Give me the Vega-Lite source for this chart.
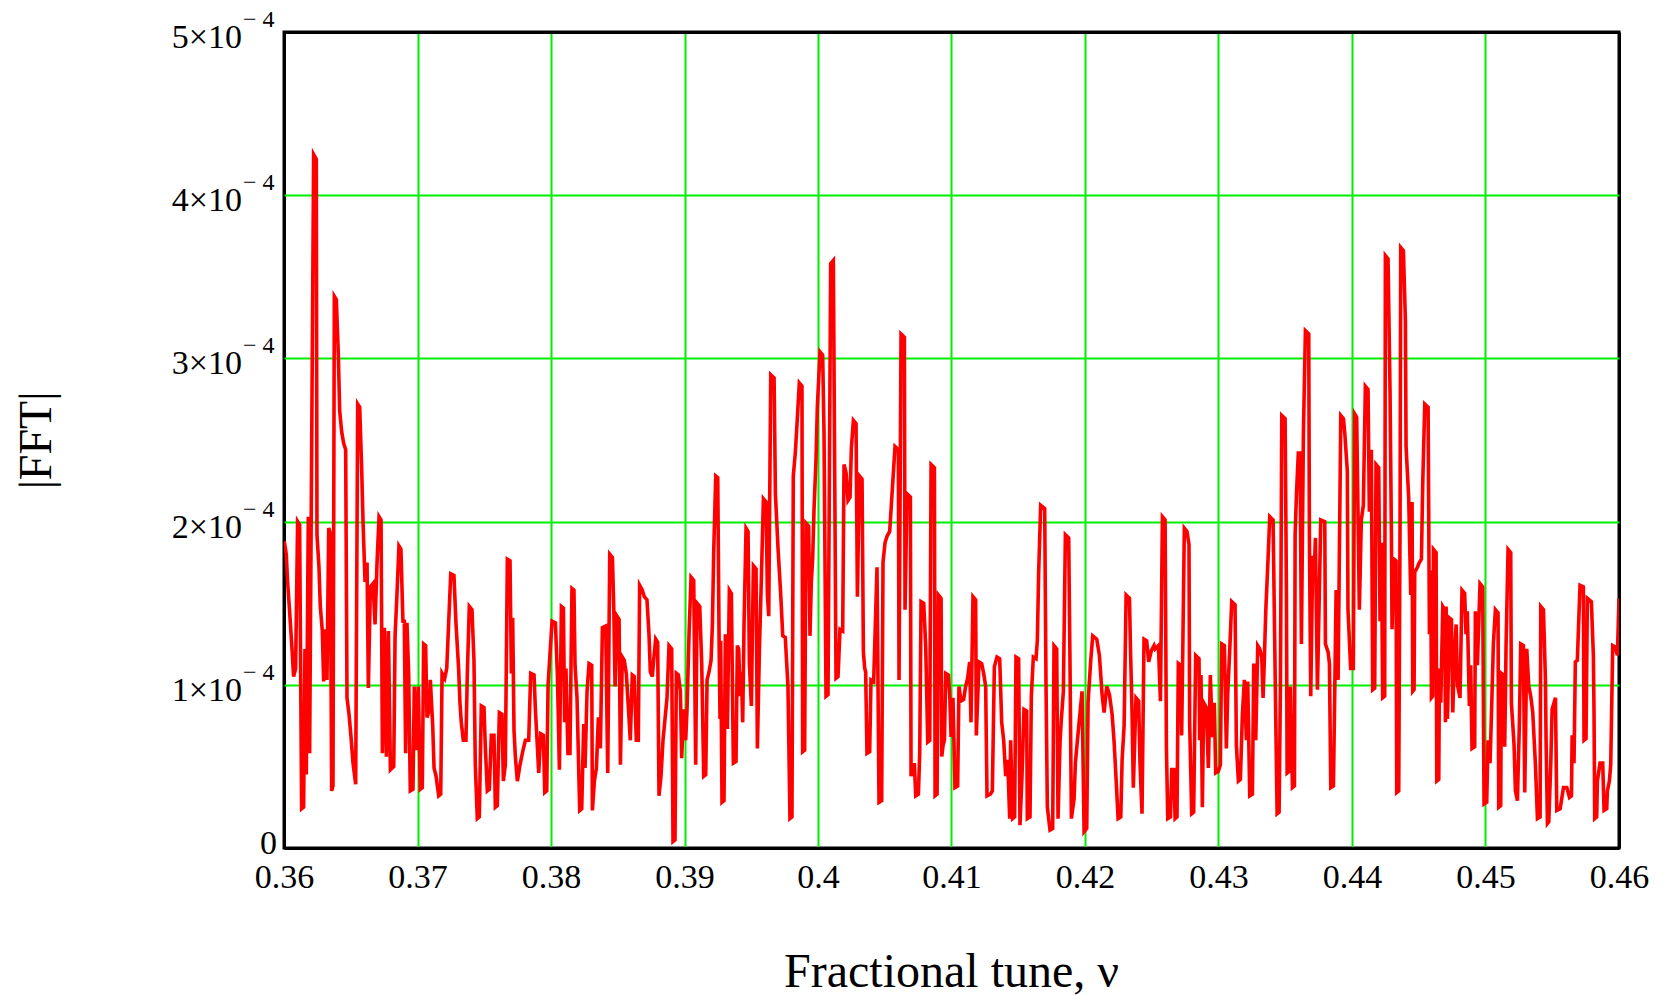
{
"$schema": "https://vega.github.io/schema/vega-lite/v6.json",
"autosize": "none",
"width": 1335,
"height": 816,
"padding": {"left": 284, "top": 32, "right": 47, "bottom": 147},
"background": "white",
"config": {
  "view": {"stroke": "black", "strokeWidth": 3},
  "axis": {"labelFont": "Liberation Serif", "titleFont": "Liberation Serif", "titleFontWeight": "normal", "labelColor": "black", "titleColor": "black", "gridOpacity": 1, "domain": false, "ticks": false}
},
"datasets": {
  "fft": [
{"nu":0.36002,"f":1.88e-4},{"nu":0.36017,"f":1.80e-4},{"nu":0.36027,"f":1.63e-4},{"nu":0.36042,"f":1.45e-4},{"nu":0.36060,"f":1.22e-4},{"nu":0.36072,"f":1.05e-4},{"nu":0.36087,"f":1.10e-4},{"nu":0.36102,"f":2.00e-4},{"nu":0.36117,"f":1.98e-4},{"nu":0.36132,"f":0.24e-4},{"nu":0.36147,"f":0.25e-4},{"nu":0.36157,"f":1.22e-4},{"nu":0.36167,"f":0.45e-4},{"nu":0.36182,"f":2.03e-4},{"nu":0.36192,"f":0.58e-4},{"nu":0.36207,"f":2.42e-4},{"nu":0.36222,"f":4.25e-4},{"nu":0.36242,"f":4.22e-4},{"nu":0.36247,"f":1.92e-4},{"nu":0.36262,"f":1.72e-4},{"nu":0.36272,"f":1.48e-4},{"nu":0.36287,"f":1.33e-4},{"nu":0.36297,"f":1.02e-4},{"nu":0.36310,"f":1.34e-4},{"nu":0.36322,"f":1.03e-4},{"nu":0.36335,"f":1.96e-4},{"nu":0.36347,"f":1.93e-4},{"nu":0.36357,"f":0.35e-4},{"nu":0.36367,"f":0.38e-4},{"nu":0.36377,"f":3.38e-4},{"nu":0.36392,"f":3.36e-4},{"nu":0.36407,"f":3.02e-4},{"nu":0.36417,"f":2.68e-4},{"nu":0.36432,"f":2.55e-4},{"nu":0.36447,"f":2.48e-4},{"nu":0.36462,"f":2.44e-4},{"nu":0.36472,"f":0.92e-4},{"nu":0.36487,"f":0.82e-4},{"nu":0.36502,"f":0.68e-4},{"nu":0.36517,"f":0.52e-4},{"nu":0.36537,"f":0.39e-4},{"nu":0.36552,"f":2.72e-4},{"nu":0.36567,"f":2.70e-4},{"nu":0.36582,"f":2.32e-4},{"nu":0.36592,"f":2.00e-4},{"nu":0.36607,"f":1.63e-4},{"nu":0.36622,"f":1.75e-4},{"nu":0.36632,"f":0.98e-4},{"nu":0.36647,"f":1.60e-4},{"nu":0.36667,"f":1.62e-4},{"nu":0.36682,"f":1.37e-4},{"nu":0.36697,"f":1.75e-4},{"nu":0.36712,"f":2.03e-4},{"nu":0.36727,"f":2.01e-4},{"nu":0.36737,"f":0.58e-4},{"nu":0.36752,"f":1.35e-4},{"nu":0.36767,"f":0.56e-4},{"nu":0.36782,"f":1.33e-4},{"nu":0.36797,"f":0.48e-4},{"nu":0.36822,"f":0.50e-4},{"nu":0.36832,"f":1.30e-4},{"nu":0.36846,"f":1.55e-4},{"nu":0.36861,"f":1.85e-4},{"nu":0.36876,"f":1.83e-4},{"nu":0.36891,"f":1.38e-4},{"nu":0.36901,"f":1.40e-4},{"nu":0.36911,"f":0.58e-4},{"nu":0.36921,"f":1.38e-4},{"nu":0.36934,"f":1.06e-4},{"nu":0.36946,"f":0.35e-4},{"nu":0.36966,"f":0.36e-4},{"nu":0.36976,"f":0.99e-4},{"nu":0.36991,"f":0.60e-4},{"nu":0.37006,"f":0.99e-4},{"nu":0.37021,"f":0.36e-4},{"nu":0.37036,"f":0.37e-4},{"nu":0.37046,"f":1.25e-4},{"nu":0.37061,"f":1.24e-4},{"nu":0.37071,"f":0.80e-4},{"nu":0.37091,"f":0.85e-4},
{"nu":0.37096,"f":1.03e-4},{"nu":0.37114,"f":0.75e-4},{"nu":0.37124,"f":0.49e-4},{"nu":0.37139,"f":0.44e-4},{"nu":0.37159,"f":0.32e-4},{"nu":0.37174,"f":0.33e-4},{"nu":0.37184,"f":1.07e-4},{"nu":0.37204,"f":1.04e-4},{"nu":0.37219,"f":1.10e-4},{"nu":0.37234,"f":1.39e-4},{"nu":0.37249,"f":1.68e-4},{"nu":0.37273,"f":1.67e-4},{"nu":0.37288,"f":1.38e-4},{"nu":0.37298,"f":1.24e-4},{"nu":0.37308,"f":1.10e-4},{"nu":0.37318,"f":0.89e-4},{"nu":0.37328,"f":0.77e-4},{"nu":0.37343,"f":0.66e-4},{"nu":0.37363,"f":0.66e-4},{"nu":0.37373,"f":1.06e-4},{"nu":0.37388,"f":1.48e-4},{"nu":0.37408,"f":1.46e-4},{"nu":0.37423,"f":1.15e-4},{"nu":0.37433,"f":0.51e-4},{"nu":0.37448,"f":0.18e-4},{"nu":0.37463,"f":0.19e-4},{"nu":0.37478,"f":0.87e-4},{"nu":0.37498,"f":0.86e-4},{"nu":0.37508,"f":0.62e-4},{"nu":0.37523,"f":0.35e-4},{"nu":0.37538,"f":0.36e-4},{"nu":0.37553,"f":0.69e-4},{"nu":0.37573,"f":0.69e-4},{"nu":0.37583,"f":0.25e-4},{"nu":0.37598,"f":0.26e-4},{"nu":0.37613,"f":0.83e-4},{"nu":0.37633,"f":0.82e-4},{"nu":0.37643,"f":0.41e-4},{"nu":0.37658,"f":0.51e-4},{"nu":0.37673,"f":1.77e-4},{"nu":0.37693,"f":1.76e-4},{"nu":0.37703,"f":1.07e-4},{"nu":0.37713,"f":1.41e-4},{"nu":0.37723,"f":0.72e-4},{"nu":0.37733,"f":0.56e-4},{"nu":0.37748,"f":0.41e-4},{"nu":0.37768,"f":0.51e-4},{"nu":0.37788,"f":0.59e-4},{"nu":0.37808,"f":0.66e-4},{"nu":0.37833,"f":0.66e-4},{"nu":0.37848,"f":1.07e-4},{"nu":0.37873,"f":1.06e-4},{"nu":0.37883,"f":0.85e-4},{"nu":0.37898,"f":0.62e-4},{"nu":0.37908,"f":0.46e-4},{"nu":0.37923,"f":0.70e-4},{"nu":0.37943,"f":0.69e-4},{"nu":0.37953,"f":0.34e-4},{"nu":0.37968,"f":0.35e-4},{"nu":0.37978,"f":1.00e-4},{"nu":0.37988,"f":1.13e-4},{"nu":0.38008,"f":1.39e-4},{"nu":0.38033,"f":1.38e-4},{"nu":0.38048,"f":1.06e-4},{"nu":0.38063,"f":0.48e-4},{"nu":0.38078,"f":1.48e-4},{"nu":0.38093,"f":1.47e-4},{"nu":0.38102,"f":0.77e-4},{"nu":0.38112,"f":1.10e-4},{"nu":0.38127,"f":0.58e-4},{"nu":0.38142,"f":0.58e-4},{"nu":0.38157,"f":1.59e-4},{"nu":0.38172,"f":1.58e-4},
{"nu":0.38180,"f":1.12e-4},{"nu":0.38195,"f":0.92e-4},{"nu":0.38215,"f":0.23e-4},{"nu":0.38230,"f":0.24e-4},{"nu":0.38245,"f":0.76e-4},{"nu":0.38255,"f":0.49e-4},{"nu":0.38270,"f":0.96e-4},{"nu":0.38285,"f":1.13e-4},{"nu":0.38305,"f":1.12e-4},{"nu":0.38310,"f":0.23e-4},{"nu":0.38325,"f":0.41e-4},{"nu":0.38340,"f":0.49e-4},{"nu":0.38355,"f":0.80e-4},{"nu":0.38370,"f":0.61e-4},{"nu":0.38385,"f":1.35e-4},{"nu":0.38410,"f":1.36e-4},{"nu":0.38425,"f":0.46e-4},{"nu":0.38440,"f":1.80e-4},{"nu":0.38460,"f":1.78e-4},{"nu":0.38470,"f":1.48e-4},{"nu":0.38480,"f":0.99e-4},{"nu":0.38495,"f":1.42e-4},{"nu":0.38510,"f":1.40e-4},{"nu":0.38520,"f":0.51e-4},{"nu":0.38534,"f":1.17e-4},{"nu":0.38549,"f":1.15e-4},{"nu":0.38564,"f":1.07e-4},{"nu":0.38579,"f":0.87e-4},{"nu":0.38594,"f":0.66e-4},{"nu":0.38609,"f":1.06e-4},{"nu":0.38624,"f":1.05e-4},{"nu":0.38639,"f":0.66e-4},{"nu":0.38654,"f":0.66e-4},{"nu":0.38664,"f":1.61e-4},{"nu":0.38684,"f":1.58e-4},{"nu":0.38699,"f":1.54e-4},{"nu":0.38719,"f":1.52e-4},{"nu":0.38734,"f":1.31e-4},{"nu":0.38744,"f":1.08e-4},{"nu":0.38759,"f":1.05e-4},{"nu":0.38769,"f":1.15e-4},{"nu":0.38784,"f":1.28e-4},{"nu":0.38799,"f":1.26e-4},{"nu":0.38809,"f":0.32e-4},{"nu":0.38824,"f":0.44e-4},{"nu":0.38839,"f":0.66e-4},{"nu":0.38854,"f":0.79e-4},{"nu":0.38869,"f":0.92e-4},{"nu":0.38884,"f":1.24e-4},{"nu":0.38904,"f":1.22e-4},{"nu":0.38914,"f":0.04e-4},{"nu":0.38929,"f":0.05e-4},{"nu":0.38939,"f":1.07e-4},{"nu":0.38954,"f":1.06e-4},{"nu":0.38969,"f":0.96e-4},{"nu":0.38979,"f":0.55e-4},{"nu":0.38994,"f":0.85e-4},{"nu":0.39009,"f":0.66e-4},{"nu":0.39019,"f":0.85e-4},{"nu":0.39034,"f":1.31e-4},{"nu":0.39049,"f":1.66e-4},{"nu":0.39069,"f":1.64e-4},{"nu":0.39084,"f":0.51e-4},{"nu":0.39094,"f":1.50e-4},{"nu":0.39114,"f":1.48e-4},{"nu":0.39129,"f":1.13e-4},{"nu":0.39144,"f":0.44e-4},{"nu":0.39159,"f":0.45e-4},{"nu":0.39169,"f":1.03e-4},{"nu":0.39184,"f":1.08e-4},{"nu":0.39199,"f":1.15e-4},{"nu":0.39209,"f":1.37e-4},{"nu":0.39219,"f":1.82e-4},{"nu":0.39234,"f":2.28e-4},{"nu":0.39249,"f":2.27e-4},{"nu":0.39259,"f":1.28e-4},
{"nu":0.39266,"f":0.79e-4},{"nu":0.39271,"f":1.27e-4},{"nu":0.39281,"f":0.28e-4},{"nu":0.39296,"f":0.29e-4},{"nu":0.39306,"f":1.31e-4},{"nu":0.39321,"f":0.73e-4},{"nu":0.39336,"f":1.58e-4},{"nu":0.39351,"f":1.56e-4},{"nu":0.39366,"f":0.52e-4},{"nu":0.39386,"f":0.53e-4},{"nu":0.39396,"f":1.24e-4},{"nu":0.39406,"f":1.22e-4},{"nu":0.39416,"f":0.93e-4},{"nu":0.39426,"f":1.08e-4},{"nu":0.39436,"f":0.77e-4},{"nu":0.39446,"f":1.37e-4},{"nu":0.39461,"f":1.96e-4},{"nu":0.39476,"f":1.94e-4},{"nu":0.39486,"f":1.13e-4},{"nu":0.39501,"f":0.87e-4},{"nu":0.39516,"f":1.73e-4},{"nu":0.39536,"f":1.71e-4},{"nu":0.39546,"f":0.61e-4},{"nu":0.39561,"f":1.21e-4},{"nu":0.39576,"f":1.66e-4},{"nu":0.39591,"f":2.14e-4},{"nu":0.39611,"f":2.12e-4},{"nu":0.39621,"f":1.55e-4},{"nu":0.39631,"f":1.42e-4},{"nu":0.39646,"f":2.90e-4},{"nu":0.39671,"f":2.88e-4},{"nu":0.39681,"f":2.17e-4},{"nu":0.39701,"f":1.83e-4},{"nu":0.39721,"f":1.55e-4},{"nu":0.39736,"f":1.30e-4},{"nu":0.39755,"f":1.29e-4},{"nu":0.39765,"f":1.14e-4},{"nu":0.39775,"f":0.99e-4},{"nu":0.39790,"f":0.18e-4},{"nu":0.39805,"f":0.19e-4},{"nu":0.39815,"f":2.28e-4},{"nu":0.39830,"f":2.42e-4},{"nu":0.39845,"f":2.63e-4},{"nu":0.39860,"f":2.85e-4},{"nu":0.39880,"f":2.83e-4},{"nu":0.39885,"f":0.59e-4},{"nu":0.39900,"f":0.60e-4},{"nu":0.39910,"f":1.99e-4},{"nu":0.39930,"f":1.97e-4},{"nu":0.39940,"f":1.30e-4},{"nu":0.39950,"f":1.63e-4},{"nu":0.39960,"f":1.77e-4},{"nu":0.39970,"f":2.07e-4},{"nu":0.39985,"f":2.38e-4},{"nu":0.39995,"f":2.70e-4},{"nu":0.40015,"f":3.04e-4},{"nu":0.40035,"f":3.02e-4},{"nu":0.40045,"f":2.55e-4},{"nu":0.40060,"f":0.93e-4},{"nu":0.40075,"f":0.94e-4},{"nu":0.40085,"f":2.24e-4},{"nu":0.40095,"f":3.58e-4},{"nu":0.40115,"f":3.60e-4},{"nu":0.40125,"f":2.31e-4},{"nu":0.40135,"f":1.04e-4},{"nu":0.40150,"f":1.05e-4},{"nu":0.40165,"f":1.34e-4},{"nu":0.40185,"f":1.33e-4},{"nu":0.40195,"f":2.35e-4},{"nu":0.40210,"f":2.30e-4},{"nu":0.40225,"f":2.13e-4},{"nu":0.40240,"f":2.15e-4},{"nu":0.40250,"f":2.45e-4},{"nu":0.40265,"f":2.62e-4},{"nu":0.40285,"f":2.60e-4},{"nu":0.40295,"f":1.54e-4},{"nu":0.40310,"f":2.28e-4},{"nu":0.40330,"f":2.26e-4},{"nu":0.40340,"f":1.20e-4},{"nu":0.40350,"f":1.10e-4},
{"nu":0.40357,"f":1.08e-4},{"nu":0.40367,"f":0.58e-4},{"nu":0.40387,"f":0.59e-4},{"nu":0.40397,"f":1.03e-4},{"nu":0.40417,"f":1.02e-4},{"nu":0.40442,"f":1.72e-4},{"nu":0.40457,"f":0.28e-4},{"nu":0.40477,"f":0.29e-4},{"nu":0.40487,"f":1.75e-4},{"nu":0.40502,"f":1.87e-4},{"nu":0.40517,"f":1.91e-4},{"nu":0.40537,"f":1.94e-4},{"nu":0.40557,"f":2.20e-4},{"nu":0.40577,"f":2.46e-4},{"nu":0.40602,"f":2.44e-4},{"nu":0.40607,"f":1.03e-4},{"nu":0.40622,"f":3.15e-4},{"nu":0.40647,"f":3.13e-4},{"nu":0.40652,"f":1.46e-4},{"nu":0.40667,"f":2.17e-4},{"nu":0.40692,"f":2.15e-4},{"nu":0.40697,"f":0.44e-4},{"nu":0.40712,"f":0.51e-4},{"nu":0.40722,"f":0.51e-4},{"nu":0.40732,"f":0.32e-4},{"nu":0.40752,"f":0.33e-4},{"nu":0.40762,"f":0.58e-4},{"nu":0.40772,"f":1.51e-4},{"nu":0.40792,"f":1.50e-4},{"nu":0.40807,"f":1.23e-4},{"nu":0.40822,"f":0.65e-4},{"nu":0.40837,"f":0.66e-4},{"nu":0.40847,"f":2.35e-4},{"nu":0.40872,"f":2.33e-4},{"nu":0.40877,"f":0.32e-4},{"nu":0.40892,"f":0.33e-4},{"nu":0.40902,"f":1.55e-4},{"nu":0.40922,"f":1.53e-4},{"nu":0.40927,"f":0.56e-4},{"nu":0.40937,"f":0.63e-4},{"nu":0.40947,"f":0.66e-4},{"nu":0.40957,"f":1.07e-4},{"nu":0.40977,"f":1.06e-4},{"nu":0.40987,"f":0.93e-4},{"nu":0.40997,"f":0.68e-4},{"nu":0.41011,"f":0.92e-4},{"nu":0.41026,"f":0.37e-4},{"nu":0.41046,"f":0.38e-4},{"nu":0.41056,"f":0.99e-4},{"nu":0.41071,"f":0.90e-4},{"nu":0.41091,"f":0.91e-4},{"nu":0.41106,"f":0.99e-4},{"nu":0.41121,"f":1.04e-4},{"nu":0.41136,"f":1.14e-4},{"nu":0.41146,"f":0.77e-4},{"nu":0.41161,"f":1.54e-4},{"nu":0.41181,"f":1.52e-4},{"nu":0.41186,"f":0.69e-4},{"nu":0.41206,"f":1.14e-4},{"nu":0.41226,"f":1.13e-4},{"nu":0.41241,"f":1.07e-4},{"nu":0.41256,"f":0.99e-4},{"nu":0.41266,"f":0.32e-4},{"nu":0.41291,"f":0.33e-4},{"nu":0.41306,"f":0.35e-4},{"nu":0.41321,"f":1.11e-4},{"nu":0.41341,"f":1.17e-4},{"nu":0.41361,"f":1.16e-4},{"nu":0.41376,"f":0.77e-4},{"nu":0.41391,"f":0.66e-4},{"nu":0.41406,"f":0.44e-4},{"nu":0.41421,"f":0.54e-4},{"nu":0.41436,"f":0.18e-4},
{"nu":0.41443,"f":0.66e-4},{"nu":0.41458,"f":0.18e-4},{"nu":0.41473,"f":0.19e-4},{"nu":0.41483,"f":1.17e-4},{"nu":0.41503,"f":1.16e-4},{"nu":0.41513,"f":0.14e-4},{"nu":0.41528,"f":0.44e-4},{"nu":0.41543,"f":0.85e-4},{"nu":0.41563,"f":0.84e-4},{"nu":0.41568,"f":0.18e-4},{"nu":0.41588,"f":0.19e-4},{"nu":0.41598,"f":0.93e-4},{"nu":0.41613,"f":1.17e-4},{"nu":0.41633,"f":1.16e-4},{"nu":0.41643,"f":1.27e-4},{"nu":0.41653,"f":1.69e-4},{"nu":0.41668,"f":2.10e-4},{"nu":0.41698,"f":2.08e-4},{"nu":0.41708,"f":1.00e-4},{"nu":0.41718,"f":0.25e-4},{"nu":0.41738,"f":0.11e-4},{"nu":0.41758,"f":0.12e-4},{"nu":0.41768,"f":1.24e-4},{"nu":0.41788,"f":1.22e-4},{"nu":0.41798,"f":0.18e-4},{"nu":0.41813,"f":0.65e-4},{"nu":0.41823,"f":0.79e-4},{"nu":0.41838,"f":0.96e-4},{"nu":0.41853,"f":1.92e-4},{"nu":0.41878,"f":1.90e-4},{"nu":0.41888,"f":1.10e-4},{"nu":0.41898,"f":0.18e-4},{"nu":0.41918,"f":0.30e-4},{"nu":0.41928,"f":0.52e-4},{"nu":0.41943,"f":0.66e-4},{"nu":0.41963,"f":0.83e-4},{"nu":0.41978,"f":0.96e-4},{"nu":0.41993,"f":0.10e-4},{"nu":0.42013,"f":0.12e-4},{"nu":0.42023,"f":0.89e-4},{"nu":0.42043,"f":1.15e-4},{"nu":0.42058,"f":1.30e-4},{"nu":0.42088,"f":1.28e-4},{"nu":0.42108,"f":1.18e-4},{"nu":0.42128,"f":0.94e-4},{"nu":0.42143,"f":0.83e-4},{"nu":0.42163,"f":0.99e-4},{"nu":0.42183,"f":0.94e-4},{"nu":0.42203,"f":0.82e-4},{"nu":0.42218,"f":0.65e-4},{"nu":0.42233,"f":0.42e-4},{"nu":0.42248,"f":0.18e-4},{"nu":0.42268,"f":0.19e-4},{"nu":0.42278,"f":0.54e-4},{"nu":0.42293,"f":0.75e-4},{"nu":0.42308,"f":1.55e-4},{"nu":0.42333,"f":1.53e-4},{"nu":0.42342,"f":1.18e-4},{"nu":0.42352,"f":0.85e-4},{"nu":0.42362,"f":0.37e-4},{"nu":0.42382,"f":0.92e-4},{"nu":0.42402,"f":0.90e-4},{"nu":0.42412,"f":0.52e-4},{"nu":0.42427,"f":0.21e-4},{"nu":0.42442,"f":1.28e-4},{"nu":0.42462,"f":1.27e-4},{"nu":0.42477,"f":1.14e-4},{"nu":0.42497,"f":1.21e-4},{"nu":0.42517,"f":1.24e-4},
{"nu":0.42525,"f":1.22e-4},{"nu":0.42550,"f":1.24e-4},{"nu":0.42565,"f":0.90e-4},{"nu":0.42580,"f":2.03e-4},{"nu":0.42600,"f":2.01e-4},{"nu":0.42610,"f":0.61e-4},{"nu":0.42620,"f":0.18e-4},{"nu":0.42640,"f":0.19e-4},{"nu":0.42650,"f":0.48e-4},{"nu":0.42665,"f":0.48e-4},{"nu":0.42675,"f":0.18e-4},{"nu":0.42689,"f":0.19e-4},{"nu":0.42699,"f":1.13e-4},{"nu":0.42714,"f":1.12e-4},{"nu":0.42724,"f":0.69e-4},{"nu":0.42734,"f":1.31e-4},{"nu":0.42744,"f":1.96e-4},{"nu":0.42764,"f":1.94e-4},{"nu":0.42779,"f":1.86e-4},{"nu":0.42784,"f":0.77e-4},{"nu":0.42799,"f":0.21e-4},{"nu":0.42814,"f":0.22e-4},{"nu":0.42829,"f":1.18e-4},{"nu":0.42854,"f":1.16e-4},{"nu":0.42859,"f":0.66e-4},{"nu":0.42869,"f":1.06e-4},{"nu":0.42879,"f":0.25e-4},{"nu":0.42889,"f":0.89e-4},{"nu":0.42909,"f":0.86e-4},{"nu":0.42924,"f":0.49e-4},{"nu":0.42939,"f":1.06e-4},{"nu":0.42954,"f":0.68e-4},{"nu":0.42969,"f":0.89e-4},{"nu":0.42979,"f":0.46e-4},{"nu":0.42999,"f":0.47e-4},{"nu":0.43014,"f":0.51e-4},{"nu":0.43024,"f":1.25e-4},{"nu":0.43044,"f":1.24e-4},{"nu":0.43059,"f":0.61e-4},{"nu":0.43069,"f":0.94e-4},{"nu":0.43084,"f":1.21e-4},{"nu":0.43099,"f":1.51e-4},{"nu":0.43124,"f":1.49e-4},{"nu":0.43134,"f":0.63e-4},{"nu":0.43149,"f":0.41e-4},{"nu":0.43164,"f":0.42e-4},{"nu":0.43179,"f":0.82e-4},{"nu":0.43194,"f":1.03e-4},{"nu":0.43209,"f":0.66e-4},{"nu":0.43219,"f":1.02e-4},{"nu":0.43234,"f":0.32e-4},{"nu":0.43254,"f":0.33e-4},{"nu":0.43264,"f":1.13e-4},{"nu":0.43279,"f":0.66e-4},{"nu":0.43294,"f":1.24e-4},{"nu":0.43309,"f":1.22e-4},{"nu":0.43324,"f":1.17e-4},{"nu":0.43334,"f":0.92e-4},{"nu":0.43344,"f":1.17e-4},{"nu":0.43354,"f":1.45e-4},{"nu":0.43369,"f":1.73e-4},{"nu":0.43384,"f":2.03e-4},{"nu":0.43409,"f":2.01e-4},{"nu":0.43419,"f":1.39e-4},{"nu":0.43429,"f":0.79e-4},{"nu":0.43439,"f":0.21e-4},{"nu":0.43454,"f":0.22e-4},{"nu":0.43464,"f":1.00e-4},{"nu":0.43474,"f":2.65e-4},{"nu":0.43499,"f":2.63e-4},{"nu":0.43509,"f":1.55e-4},{"nu":0.43514,"f":0.46e-4},{"nu":0.43529,"f":0.47e-4},{"nu":0.43539,"f":0.99e-4},{"nu":0.43554,"f":0.37e-4},{"nu":0.43569,"f":0.38e-4},{"nu":0.43574,"f":1.92e-4},{"nu":0.43584,"f":2.17e-4},{"nu":0.43598,"f":2.42e-4},
{"nu":0.43611,"f":2.42e-4},{"nu":0.43621,"f":1.25e-4},{"nu":0.43636,"f":2.54e-4},{"nu":0.43651,"f":3.17e-4},{"nu":0.43676,"f":3.15e-4},{"nu":0.43681,"f":1.90e-4},{"nu":0.43691,"f":0.93e-4},{"nu":0.43706,"f":1.79e-4},{"nu":0.43716,"f":1.66e-4},{"nu":0.43726,"f":1.90e-4},{"nu":0.43741,"f":0.97e-4},{"nu":0.43766,"f":2.01e-4},{"nu":0.43796,"f":2.00e-4},{"nu":0.43801,"f":1.25e-4},{"nu":0.43821,"f":1.20e-4},{"nu":0.43831,"f":1.13e-4},{"nu":0.43841,"f":0.37e-4},{"nu":0.43861,"f":0.38e-4},{"nu":0.43871,"f":0.97e-4},{"nu":0.43881,"f":1.58e-4},{"nu":0.43896,"f":1.03e-4},{"nu":0.43906,"f":1.85e-4},{"nu":0.43916,"f":2.65e-4},{"nu":0.43936,"f":2.63e-4},{"nu":0.43946,"f":2.54e-4},{"nu":0.43956,"f":2.42e-4},{"nu":0.43965,"f":2.31e-4},{"nu":0.43970,"f":1.46e-4},{"nu":0.43990,"f":1.10e-4},{"nu":0.44010,"f":1.10e-4},{"nu":0.44020,"f":2.66e-4},{"nu":0.44035,"f":2.64e-4},{"nu":0.44045,"f":2.06e-4},{"nu":0.44055,"f":1.46e-4},{"nu":0.44070,"f":2.01e-4},{"nu":0.44085,"f":2.10e-4},{"nu":0.44100,"f":2.83e-4},{"nu":0.44120,"f":2.81e-4},{"nu":0.44130,"f":2.06e-4},{"nu":0.44145,"f":2.44e-4},{"nu":0.44155,"f":0.97e-4},{"nu":0.44170,"f":0.98e-4},{"nu":0.44180,"f":2.35e-4},{"nu":0.44200,"f":2.33e-4},{"nu":0.44210,"f":1.39e-4},{"nu":0.44220,"f":1.87e-4},{"nu":0.44230,"f":0.92e-4},{"nu":0.44245,"f":0.93e-4},{"nu":0.44250,"f":3.63e-4},{"nu":0.44270,"f":3.61e-4},{"nu":0.44285,"f":2.79e-4},{"nu":0.44295,"f":1.93e-4},{"nu":0.44300,"f":1.34e-4},{"nu":0.44315,"f":1.77e-4},{"nu":0.44330,"f":1.76e-4},{"nu":0.44335,"f":0.34e-4},{"nu":0.44350,"f":0.35e-4},{"nu":0.44360,"f":2.00e-4},{"nu":0.44365,"f":3.68e-4},{"nu":0.44385,"f":3.66e-4},{"nu":0.44400,"f":3.23e-4},{"nu":0.44405,"f":2.46e-4},{"nu":0.44425,"f":2.14e-4},{"nu":0.44440,"f":1.55e-4},{"nu":0.44450,"f":2.12e-4},{"nu":0.44455,"f":0.96e-4},{"nu":0.44465,"f":0.97e-4},{"nu":0.44470,"f":1.69e-4},{"nu":0.44490,"f":1.72e-4},{"nu":0.44505,"f":1.75e-4},{"nu":0.44520,"f":1.77e-4},{"nu":0.44530,"f":2.24e-4},{"nu":0.44545,"f":2.72e-4},{"nu":0.44570,"f":2.70e-4},{"nu":0.44580,"f":1.31e-4},{"nu":0.44590,"f":1.70e-4},{"nu":0.44595,"f":0.92e-4},{"nu":0.44605,"f":0.93e-4},{"nu":0.44610,"f":1.83e-4},{"nu":0.44630,"f":1.81e-4},{"nu":0.44635,"f":0.41e-4},{"nu":0.44650,"f":0.42e-4},{"nu":0.44655,"f":1.10e-4},{"nu":0.44665,"f":0.89e-4},{"nu":0.44680,"f":1.48e-4},{"nu":0.44695,"f":1.46e-4},{"nu":0.44700,"f":0.77e-4},
{"nu":0.44705,"f":1.48e-4},{"nu":0.44715,"f":0.79e-4},{"nu":0.44730,"f":1.41e-4},{"nu":0.44745,"f":1.40e-4},{"nu":0.44755,"f":0.83e-4},{"nu":0.44765,"f":1.12e-4},{"nu":0.44780,"f":1.37e-4},{"nu":0.44790,"f":1.00e-4},{"nu":0.44809,"f":0.92e-4},{"nu":0.44824,"f":1.58e-4},{"nu":0.44844,"f":1.56e-4},{"nu":0.44854,"f":1.31e-4},{"nu":0.44864,"f":1.45e-4},{"nu":0.44879,"f":0.87e-4},{"nu":0.44889,"f":1.12e-4},{"nu":0.44899,"f":0.61e-4},{"nu":0.44919,"f":0.62e-4},{"nu":0.44924,"f":1.45e-4},{"nu":0.44939,"f":1.12e-4},{"nu":0.44959,"f":1.62e-4},{"nu":0.44979,"f":1.60e-4},{"nu":0.44984,"f":0.93e-4},{"nu":0.44989,"f":0.27e-4},{"nu":0.45009,"f":0.28e-4},{"nu":0.45019,"f":0.66e-4},{"nu":0.45034,"f":0.52e-4},{"nu":0.45044,"f":0.80e-4},{"nu":0.45059,"f":1.25e-4},{"nu":0.45074,"f":1.46e-4},{"nu":0.45094,"f":1.44e-4},{"nu":0.45099,"f":0.25e-4},{"nu":0.45114,"f":0.26e-4},{"nu":0.45119,"f":1.07e-4},{"nu":0.45134,"f":1.06e-4},{"nu":0.45144,"f":0.62e-4},{"nu":0.45154,"f":1.24e-4},{"nu":0.45169,"f":1.83e-4},{"nu":0.45189,"f":1.81e-4},{"nu":0.45194,"f":0.89e-4},{"nu":0.45214,"f":0.63e-4},{"nu":0.45224,"f":0.35e-4},{"nu":0.45239,"f":0.29e-4},{"nu":0.45254,"f":0.77e-4},{"nu":0.45264,"f":1.25e-4},{"nu":0.45284,"f":1.24e-4},{"nu":0.45294,"f":0.34e-4},{"nu":0.45309,"f":1.22e-4},{"nu":0.45324,"f":0.99e-4},{"nu":0.45339,"f":0.93e-4},{"nu":0.45354,"f":0.83e-4},{"nu":0.45374,"f":0.51e-4},{"nu":0.45389,"f":0.18e-4},{"nu":0.45409,"f":0.19e-4},{"nu":0.45414,"f":1.48e-4},{"nu":0.45434,"f":1.46e-4},{"nu":0.45449,"f":1.03e-4},{"nu":0.45454,"f":0.65e-4},{"nu":0.45464,"f":0.15e-4},{"nu":0.45474,"f":0.16e-4},{"nu":0.45489,"f":0.52e-4},{"nu":0.45499,"f":0.85e-4},{"nu":0.45524,"f":0.92e-4},{"nu":0.45534,"f":0.23e-4},{"nu":0.45559,"f":0.24e-4},{"nu":0.45584,"f":0.37e-4},{"nu":0.45609,"f":0.37e-4},{"nu":0.45629,"f":0.31e-4},{"nu":0.45644,"f":0.32e-4},{"nu":0.45649,"f":0.69e-4},{"nu":0.45663,"f":0.52e-4},{"nu":0.45673,"f":1.14e-4},{"nu":0.45688,"f":1.15e-4},{"nu":0.45708,"f":1.61e-4},{"nu":0.45733,"f":1.60e-4},{"nu":0.45738,"f":0.66e-4},{"nu":0.45753,"f":0.67e-4},{"nu":0.45763,"f":1.53e-4},{"nu":0.45793,"f":1.51e-4},{"nu":0.45808,"f":1.18e-4},{"nu":0.45813,"f":0.83e-4},{"nu":0.45818,"f":0.18e-4},{"nu":0.45833,"f":0.19e-4},{"nu":0.45838,"f":0.41e-4},{"nu":0.45858,"f":0.52e-4},{"nu":0.45878,"f":0.52e-4},{"nu":0.45888,"f":0.23e-4},{"nu":0.45908,"f":0.24e-4},{"nu":0.45913,"f":0.35e-4},{"nu":0.45928,"f":0.41e-4},{"nu":0.45938,"f":0.51e-4},{"nu":0.45953,"f":1.24e-4},{"nu":0.45973,"f":1.23e-4},{"nu":0.45988,"f":1.18e-4},{"nu":0.46000,"f":1.53e-4}
  ],
  "ylabels": [
    {"y": 0.0001, "base": "1×10", "exp": "− 4"},
    {"y": 0.0002, "base": "2×10", "exp": "− 4"},
    {"y": 0.0003, "base": "3×10", "exp": "− 4"},
    {"y": 0.0004, "base": "4×10", "exp": "− 4"},
    {"y": 0.0005, "base": "5×10", "exp": "− 4"}
  ],
  "zerolabel": [{"y": 0, "base": "0"}]
},
"layer": [
  {
    "data": {"name": "fft"},
    "mark": {"type": "line", "color": "#ff0000", "strokeWidth": 3.6, "clip": true, "interpolate": "linear"},
    "encoding": {
      "x": {"field": "nu", "type": "quantitative",
        "scale": {"domain": [0.36, 0.46], "nice": false, "zero": false},
        "axis": {"values": [0.36, 0.37, 0.38, 0.39, 0.4, 0.41, 0.42, 0.43, 0.44, 0.45, 0.46], "format": "~g", "labelFontSize": 34, "labelPadding": 12, "labelFlush": false, "labelOverlap": false, "grid": true,
          "gridColor": {"condition": {"test": "datum.value <= 0.3601 || datum.value >= 0.4599", "value": "black"}, "value": "#00ee00"},
          "gridWidth": {"condition": {"test": "datum.value <= 0.3601 || datum.value >= 0.4599", "value": 3}, "value": 2},
          "title": "Fractional tune, ν", "titleFontSize": 48, "titleY": 124, "titleX": 667, "titleBaseline": "middle"}},
      "y": {"field": "f", "type": "quantitative",
        "scale": {"domain": [0, 0.0005], "nice": false, "zero": true},
        "axis": {"values": [0, 0.0001, 0.0002, 0.0003, 0.0004, 0.0005], "labels": false, "grid": true,
          "gridColor": {"condition": {"test": "datum.value <= 0.000001 || datum.value >= 0.000499", "value": "black"}, "value": "#00ee00"},
          "gridWidth": {"condition": {"test": "datum.value <= 0.000001 || datum.value >= 0.000499", "value": 3}, "value": 2},
          "title": "|FFT|", "titleFontSize": 46, "titleAngle": -90, "titleX": -248, "titleY": 408, "titleBaseline": "middle", "titleAlign": "center"}}
    }
  },
  {
    "data": {"name": "ylabels"},
    "mark": {"type": "text", "align": "right", "baseline": "middle", "font": "Liberation Serif", "fontSize": 34, "color": "black", "dx": -42, "dy": 6},
    "encoding": {
      "x": {"datum": 0.36, "type": "quantitative"},
      "y": {"field": "y", "type": "quantitative"},
      "text": {"field": "base"}
    }
  },
  {
    "data": {"name": "ylabels"},
    "mark": {"type": "text", "align": "left", "baseline": "middle", "font": "Liberation Serif", "fontSize": 24, "color": "black", "dx": -41, "dy": -12},
    "encoding": {
      "x": {"datum": 0.36, "type": "quantitative"},
      "y": {"field": "y", "type": "quantitative"},
      "text": {"field": "exp"}
    }
  },
  {
    "data": {"name": "zerolabel"},
    "mark": {"type": "text", "align": "right", "baseline": "middle", "font": "Liberation Serif", "fontSize": 34, "color": "black", "dx": -7, "dy": -4},
    "encoding": {
      "x": {"datum": 0.36, "type": "quantitative"},
      "y": {"field": "y", "type": "quantitative"},
      "text": {"field": "base"}
    }
  }
]
}
